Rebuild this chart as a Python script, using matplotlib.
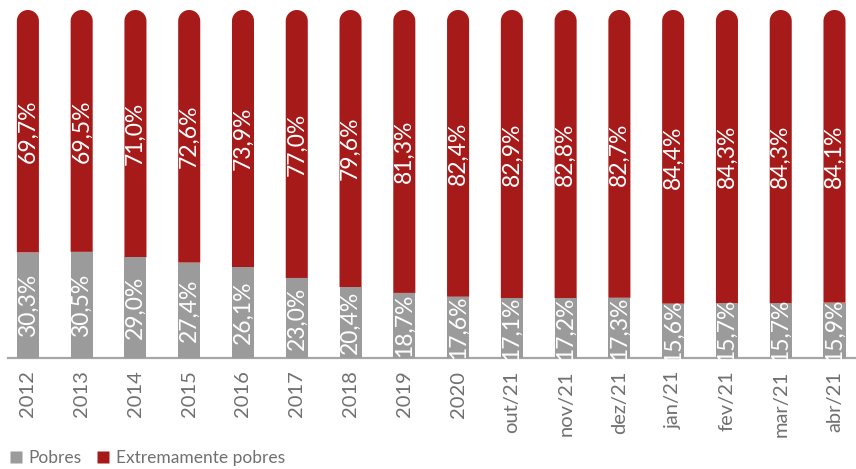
import numpy as np
import matplotlib.pyplot as plt
from matplotlib.lines import Line2D

# Share of poor vs extremely poor, by period (%)
periods = ['2012', '2013', '2014', '2015', '2016', '2017', '2018', '2019', '2020',
           'out/21', 'nov/21', 'dez/21', 'jan/21', 'fev/21', 'mar/21', 'abr/21']
pobres = [30.3, 30.5, 29.0, 27.4, 26.1, 23.0, 20.4, 18.7, 17.6,
          17.1, 17.2, 17.3, 15.6, 15.7, 15.7, 15.9]
extremamente = [69.7, 69.5, 71.0, 72.6, 73.9, 77.0, 79.6, 81.3, 82.4,
                82.9, 82.8, 82.7, 84.4, 84.3, 84.3, 84.1]

gray = '#9b9b9b'
red = '#a61a1a'
txt = '#707070'

plt.rcParams['font.family'] = ['Lato', 'DejaVu Sans']

W, H = 856, 469
fig = plt.figure(figsize=(W / 100, H / 100), dpi=100)
ax = fig.add_axes([8 / W, (H - 358) / H, 848 / W, 348 / H])

x = np.arange(len(periods))
bw = 0.41
xlim = (-0.37, 15.4)
ax.set_xlim(*xlim)
ax.set_ylim(0, 100)

# pixels per data unit, so the rounded top stays a half circle on screen
ppx = 848 / (xlim[1] - xlim[0])
ppy = 348 / 100
r_x = bw / 2
r_y = r_x * ppx / ppy

pob = np.array(pobres)
ext = np.array(extremamente)
top = pob + ext

# red segment: one outline with a half-circle top
theta = np.linspace(0, np.pi, 60)
for xi, p, t in zip(x, pob, top):
    cy = t - r_y
    xs = np.concatenate([[xi + r_x], xi + r_x * np.cos(theta), [xi - r_x]])
    ys = np.concatenate([[p], cy + r_y * np.sin(theta), [p]])
    ax.fill(xs, ys, color=red, linewidth=0, zorder=2)
ax.bar(x, pob, bw, color=gray, linewidth=0, zorder=3)

def fmt(v):
    return f'{v:.1f}%'.replace('.', ',')

for xi, p, e in zip(x, pob, ext):
    ax.text(xi, p / 2, fmt(p), rotation=90, ha='center', va='center',
            color='white', fontsize=16.5, zorder=4)
    ax.text(xi, p + e / 2, fmt(e), rotation=90, ha='center', va='center',
            color='white', fontsize=16.5, zorder=4)

ax.set_xticks(x)
ax.set_xticklabels(periods, rotation=90, color=txt, fontsize=14.5)
ax.tick_params(axis='x', length=0, pad=9)
ax.set_yticks([])
for s in ['top', 'left', 'right']:
    ax.spines[s].set_visible(False)
ax.spines['bottom'].set_color('#a6a6a6')
ax.spines['bottom'].set_linewidth(1.6)

handles = [Line2D([], [], marker='s', linestyle='none', markersize=8,
                  markerfacecolor=gray, markeredgecolor='none'),
           Line2D([], [], marker='s', linestyle='none', markersize=8,
                  markerfacecolor=red, markeredgecolor='none')]
fig.legend(handles, ['Pobres', 'Extremamente pobres'], loc='center left',
           bbox_to_anchor=(0 / W, 11 / H), ncol=2, frameon=False,
           prop={'size': 12.5}, labelcolor=txt,
           handlelength=0.8, handletextpad=0.35, columnspacing=0.8,
           borderpad=0)

fig.savefig('out.png', dpi=100)
